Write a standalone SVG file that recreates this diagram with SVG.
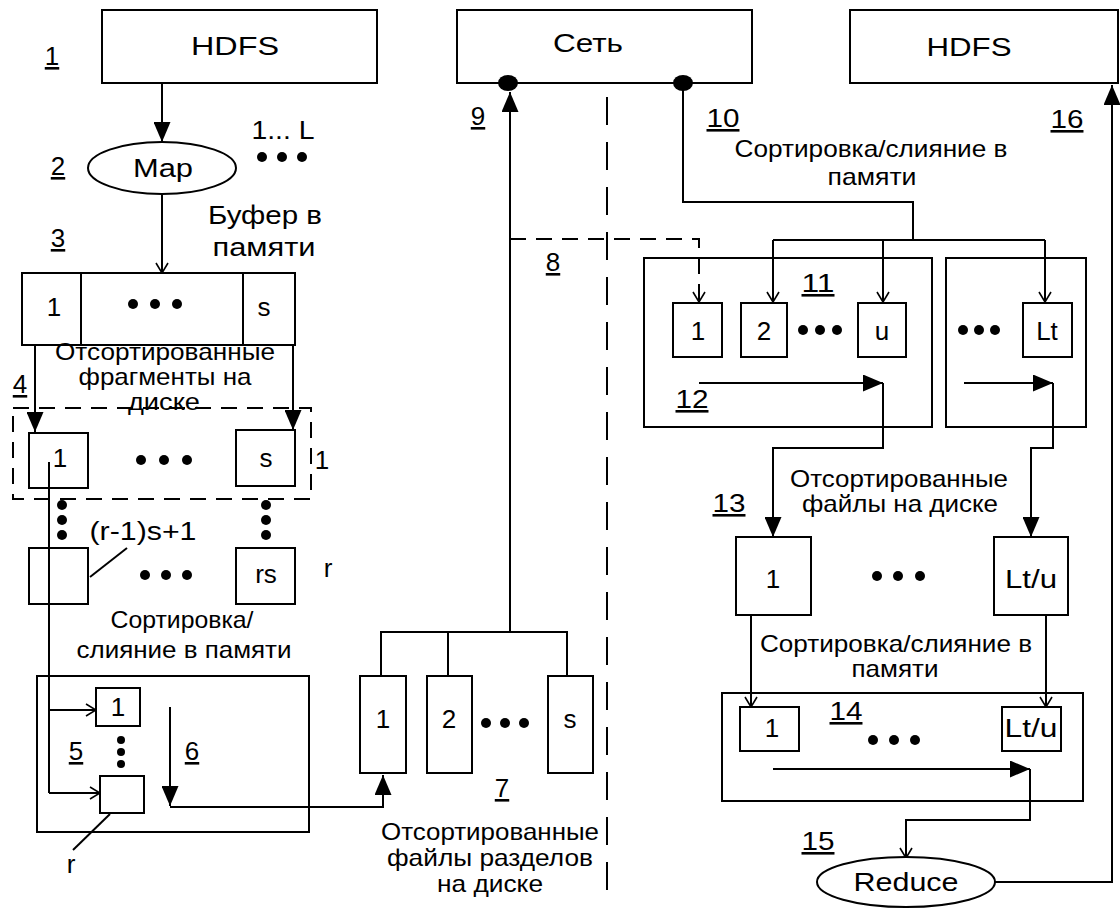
<svg xmlns="http://www.w3.org/2000/svg" width="1120" height="908" viewBox="0 0 1120 908">
<defs>
<marker id="af" markerUnits="userSpaceOnUse" markerWidth="20" markerHeight="17" refX="20" refY="8.5" orient="auto" viewBox="0 0 20 17"><path d="M0,0 L20,8.5 L0,17 z" fill="#000"/></marker>
<marker id="ao" markerUnits="userSpaceOnUse" markerWidth="12" markerHeight="14" refX="11" refY="7" orient="auto" viewBox="0 0 12 14"><path d="M1,1 L11,7 L1,13" fill="none" stroke="#000" stroke-width="1.6"/></marker>
<style>
.b{fill:#fff;stroke:#000;stroke-width:2}
.l{fill:none;stroke:#000;stroke-width:2}
.d{fill:none;stroke:#000;stroke-width:2;stroke-dasharray:16 10}
.dv{fill:none;stroke:#000;stroke-width:2;stroke-dasharray:28 17}
.t{font-family:"Liberation Sans",Arial,sans-serif;font-size:26px;fill:#000;text-anchor:middle}
.h{font-size:25px}
.m{font-size:24px}
.u{text-decoration:underline}
.dot{fill:#000}
</style>
</defs>
<rect width="1120" height="908" fill="#fff"/>

<g id="connectors">
<line class="l" x1="162" y1="83" x2="162" y2="142" marker-end="url(#af)"/>
<line class="l" x1="162" y1="193" x2="162" y2="273" marker-end="url(#ao)"/>
<line class="l" x1="35" y1="345" x2="35" y2="432" marker-end="url(#af)"/>
<line class="l" x1="293" y1="345" x2="293" y2="430" marker-end="url(#af)"/>
<line class="l" x1="49" y1="462" x2="49" y2="793"/>
<line class="l" x1="49" y1="710" x2="96" y2="710" marker-end="url(#ao)"/>
<line class="l" x1="49" y1="793" x2="100" y2="793" marker-end="url(#ao)"/>
<line class="l" x1="90" y1="577" x2="127" y2="548"/>
<line class="l" x1="110" y1="814" x2="73" y2="850"/>
<line class="l" x1="170" y1="707" x2="170" y2="806" marker-end="url(#af)"/>
<polyline class="l" points="170,807 383,807 383,775" marker-end="url(#af)"/>
<polyline class="l" points="381,676 381,632 567,632 567,676"/>
<line class="l" x1="448" y1="632" x2="448" y2="676"/>
<line class="l" x1="510" y1="632" x2="510" y2="92" marker-end="url(#af)"/>
<polyline class="d" points="510,239 699,239 699,302" marker-end="url(#ao)"/>
<line class="dv" x1="607" y1="97" x2="607" y2="892"/>
<polyline class="l" points="683,83 683,202 913,202 913,240"/>
<line class="l" x1="773" y1="240" x2="1045" y2="240"/>
<line class="l" x1="773" y1="240" x2="773" y2="302" marker-end="url(#ao)"/>
<line class="l" x1="883" y1="240" x2="883" y2="302" marker-end="url(#ao)"/>
<line class="l" x1="1045" y1="240" x2="1045" y2="302" marker-end="url(#ao)"/>
<line class="l" x1="699" y1="383" x2="883" y2="383" marker-end="url(#af)"/>
<polyline class="l" points="883,383 883,448 773,448 773,537" marker-end="url(#af)"/>
<line class="l" x1="964" y1="383" x2="1053" y2="383" marker-end="url(#af)"/>
<polyline class="l" points="1053,383 1053,448 1031,448 1031,537" marker-end="url(#af)"/>
<line class="l" x1="751" y1="615" x2="751" y2="707" marker-end="url(#ao)"/>
<line class="l" x1="1046" y1="615" x2="1046" y2="707" marker-end="url(#ao)"/>
<line class="l" x1="773" y1="769" x2="1030" y2="769" marker-end="url(#af)"/>
<polyline class="l" points="1030,769 1030,820 906,820 906,858" marker-end="url(#ao)"/>
<polyline class="l" points="995,882 1112,882 1112,85" marker-end="url(#af)"/>
</g>

<g id="hdfs-in">
<rect class="b" x="102" y="10" width="275" height="73"/>
<text class="t h" x="235" y="55" textLength="88" lengthAdjust="spacingAndGlyphs">HDFS</text>
<text class="t u" x="52" y="65">1</text>
</g>

<g id="network">
<rect class="b" x="457" y="10" width="295" height="73"/>
<text class="t h" x="588" y="52" textLength="70" lengthAdjust="spacingAndGlyphs">Сеть</text>
<ellipse class="dot" cx="508" cy="83" rx="10" ry="8"/>
<ellipse class="dot" cx="683" cy="83" rx="10" ry="8"/>
</g>

<g id="hdfs-out">
<rect class="b" x="850" y="10" width="268" height="73"/>
<text class="t h" x="969" y="56" textLength="85" lengthAdjust="spacingAndGlyphs">HDFS</text>
</g>

<g id="map">
<ellipse class="b" cx="162" cy="168" rx="74" ry="26"/>
<text class="t" x="163" y="177" textLength="60" lengthAdjust="spacingAndGlyphs">Map</text>
<text class="t u" x="58" y="175">2</text>
<text class="t" x="283" y="139" textLength="63" lengthAdjust="spacingAndGlyphs">1... L</text>
<circle class="dot" cx="262" cy="157" r="5"/>
<circle class="dot" cx="282" cy="157" r="5"/>
<circle class="dot" cx="302" cy="157" r="5"/>
</g>

<g id="buffer">
<text class="t" x="265" y="224" textLength="114" lengthAdjust="spacingAndGlyphs">Буфер в</text>
<text class="t" x="264" y="256" textLength="103" lengthAdjust="spacingAndGlyphs">памяти</text>
<text class="t u" x="58" y="247">3</text>
<rect class="b" x="22" y="273" width="273" height="72"/>
<line class="l" x1="81" y1="273" x2="81" y2="345"/>
<line class="l" x1="243" y1="273" x2="243" y2="345"/>
<text class="t" x="54" y="316">1</text>
<text class="t" x="264" y="316">s</text>
<circle class="dot" cx="133" cy="304" r="5"/>
<circle class="dot" cx="155" cy="304" r="5"/>
<circle class="dot" cx="177" cy="304" r="5"/>
</g>

<g id="spills">
<text class="t m" x="165" y="360" textLength="220" lengthAdjust="spacingAndGlyphs">Отсортированные</text>
<text class="t m" x="165" y="385" textLength="173" lengthAdjust="spacingAndGlyphs">фрагменты на</text>
<text class="t m" x="164" y="410" textLength="72" lengthAdjust="spacingAndGlyphs">диске</text>
<text class="t u" x="20" y="393">4</text>
<rect class="d" x="13" y="408" width="298" height="91"/>
<rect class="b" x="29" y="433" width="59" height="55"/>
<text class="t" x="60" y="467">1</text>
<rect class="b" x="236" y="430" width="59" height="56"/>
<text class="t" x="266" y="467">s</text>
<line class="l" x1="49" y1="462" x2="49" y2="488"/>
<circle class="dot" cx="141" cy="460" r="5"/>
<circle class="dot" cx="164" cy="460" r="5"/>
<circle class="dot" cx="187" cy="460" r="5"/>
<text class="t" x="322" y="469">1</text>
<circle class="dot" cx="62" cy="505" r="5"/>
<circle class="dot" cx="62" cy="520" r="5"/>
<circle class="dot" cx="62" cy="535" r="5"/>
<circle class="dot" cx="266" cy="505" r="5"/>
<circle class="dot" cx="266" cy="520" r="5"/>
<circle class="dot" cx="266" cy="535" r="5"/>
<text class="t" x="143" y="540" textLength="107" lengthAdjust="spacingAndGlyphs">(r-1)s+1</text>
<rect class="b" x="29" y="548" width="59" height="56" fill-opacity="0"/>
<circle class="dot" cx="145" cy="575" r="5"/>
<circle class="dot" cx="166" cy="575" r="5"/>
<circle class="dot" cx="187" cy="575" r="5"/>
<rect class="b" x="236" y="548" width="59" height="56"/>
<text class="t" x="266" y="583">rs</text>
<text class="t" x="328" y="577">r</text>
</g>

<g id="merge">
<text class="t m" x="182" y="628" textLength="143" lengthAdjust="spacingAndGlyphs">Сортировка/</text>
<text class="t m" x="184" y="658" textLength="215" lengthAdjust="spacingAndGlyphs">слияние в памяти</text>
<rect class="b" x="37" y="676" width="272" height="156" fill-opacity="0"/>
<rect class="b" x="96" y="688" width="44" height="38"/>
<text class="t" x="118" y="716">1</text>
<circle class="dot" cx="121" cy="740" r="4"/>
<circle class="dot" cx="121" cy="752" r="4"/>
<circle class="dot" cx="121" cy="764" r="4"/>
<rect class="b" x="100" y="776" width="44" height="37"/>
<text class="t u" x="76" y="760">5</text>
<text class="t u" x="192" y="760">6</text>
<text class="t" x="71" y="873">r</text>
</g>

<g id="partitions">
<rect class="b" x="360" y="676" width="46" height="97"/>
<text class="t" x="383" y="728">1</text>
<rect class="b" x="427" y="676" width="45" height="97"/>
<text class="t" x="449" y="728">2</text>
<circle class="dot" cx="486" cy="723" r="5"/>
<circle class="dot" cx="505" cy="723" r="5"/>
<circle class="dot" cx="524" cy="723" r="5"/>
<rect class="b" x="548" y="676" width="45" height="97"/>
<text class="t" x="570" y="728">s</text>
<text class="t u" x="502" y="797">7</text>
<text class="t m" x="490" y="840" textLength="218" lengthAdjust="spacingAndGlyphs">Отсортированные</text>
<text class="t m" x="490" y="866" textLength="206" lengthAdjust="spacingAndGlyphs">файлы разделов</text>
<text class="t m" x="490" y="892" textLength="106" lengthAdjust="spacingAndGlyphs">на диске</text>
<text class="t u" x="478" y="125">9</text>
<text class="t u" x="553" y="271">8</text>
</g>

<g id="copy">
<text class="t u" x="723" y="127" textLength="33" lengthAdjust="spacingAndGlyphs">10</text>
<text class="t m" x="871" y="157" textLength="273" lengthAdjust="spacingAndGlyphs">Сортировка/слияние в</text>
<text class="t m" x="872" y="185" textLength="89" lengthAdjust="spacingAndGlyphs">памяти</text>
<text class="t u" x="1067" y="128" textLength="33" lengthAdjust="spacingAndGlyphs">16</text>
</g>

<g id="reduce-mem-1">
<rect class="b" x="644" y="258" width="288" height="169" fill-opacity="0"/>
<text class="t u" x="818" y="292" textLength="33" lengthAdjust="spacingAndGlyphs">11</text>
<rect class="b" x="673" y="303" width="49" height="54"/>
<text class="t" x="698" y="340">1</text>
<rect class="b" x="741" y="303" width="46" height="54"/>
<text class="t" x="764" y="340">2</text>
<circle class="dot" cx="803" cy="330" r="5"/>
<circle class="dot" cx="820" cy="330" r="5"/>
<circle class="dot" cx="837" cy="330" r="5"/>
<rect class="b" x="858" y="303" width="48" height="54"/>
<text class="t" x="882" y="340">u</text>
<text class="t u" x="692" y="408" textLength="33" lengthAdjust="spacingAndGlyphs">12</text>
</g>

<g id="reduce-mem-2">
<rect class="b" x="946" y="258" width="140" height="169" fill-opacity="0"/>
<circle class="dot" cx="963" cy="330" r="5"/>
<circle class="dot" cx="979" cy="330" r="5"/>
<circle class="dot" cx="995" cy="330" r="5"/>
<rect class="b" x="1023" y="303" width="49" height="54"/>
<text class="t" x="1047" y="340">Lt</text>
</g>

<g id="reduce-disk">
<text class="t m" x="899" y="487" textLength="218" lengthAdjust="spacingAndGlyphs">Отсортированные</text>
<text class="t m" x="900" y="512" textLength="196" lengthAdjust="spacingAndGlyphs">файлы на диске</text>
<text class="t u" x="729" y="512" textLength="33" lengthAdjust="spacingAndGlyphs">13</text>
<rect class="b" x="736" y="537" width="75" height="78"/>
<text class="t" x="773" y="588">1</text>
<circle class="dot" cx="877" cy="576" r="5"/>
<circle class="dot" cx="898" cy="576" r="5"/>
<circle class="dot" cx="920" cy="576" r="5"/>
<rect class="b" x="994" y="537" width="74" height="78"/>
<text class="t" x="1031" y="588" textLength="52" lengthAdjust="spacingAndGlyphs">Lt/u</text>
</g>

<g id="reduce-final-merge">
<text class="t m" x="896" y="652" textLength="272" lengthAdjust="spacingAndGlyphs">Сортировка/слияние в</text>
<text class="t m" x="895" y="677" textLength="87" lengthAdjust="spacingAndGlyphs">памяти</text>
<rect class="b" x="722" y="693" width="361" height="108" fill-opacity="0"/>
<rect class="b" x="740" y="707" width="59" height="44"/>
<text class="t" x="772" y="737">1</text>
<text class="t u" x="846" y="720" textLength="33" lengthAdjust="spacingAndGlyphs">14</text>
<circle class="dot" cx="873" cy="740" r="5"/>
<circle class="dot" cx="894" cy="740" r="5"/>
<circle class="dot" cx="915" cy="740" r="5"/>
<rect class="b" x="1002" y="707" width="59" height="44"/>
<text class="t" x="1031" y="737" textLength="53" lengthAdjust="spacingAndGlyphs">Lt/u</text>
</g>

<g id="reduce">
<text class="t u" x="818" y="850" textLength="33" lengthAdjust="spacingAndGlyphs">15</text>
<ellipse class="b" cx="906" cy="882" rx="89" ry="25"/>
<text class="t" x="906" y="891" textLength="105" lengthAdjust="spacingAndGlyphs">Reduce</text>
</g>
</svg>
